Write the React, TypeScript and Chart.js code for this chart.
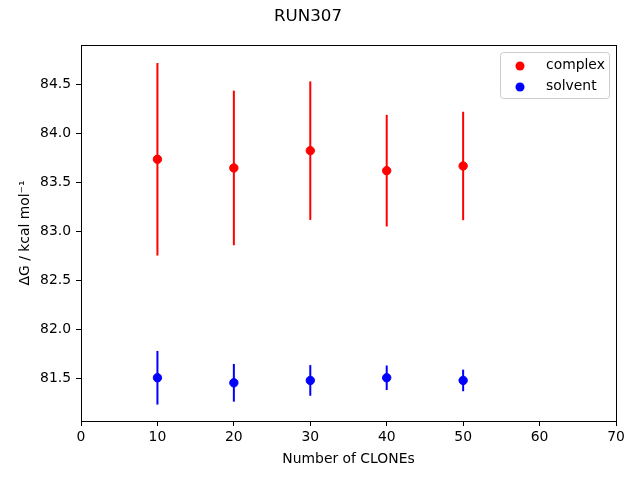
import React, { useEffect, useRef } from "react";
import { Chart, registerables } from "chart.js";

Chart.register(...registerables);

const TITLE = "RUN307";
const X_LABEL = "Number of CLONEs";
const Y_LABEL = "ΔG / kcal mol⁻¹";
const CLONES = [10, 20, 30, 40, 50];
const COMPLEX = [83.734, 83.646, 83.822, 83.618, 83.666];
const COMPLEX_ERR = [0.98, 0.787, 0.705, 0.568, 0.552];
const SOLVENT = [81.51, 81.459, 81.483, 81.51, 81.483];
const SOLVENT_ERR = [0.273, 0.192, 0.156, 0.125, 0.11];
const X_TICKS = [0, 10, 20, 30, 40, 50, 60, 70];
const Y_TICKS = [81.5, 82.0, 82.5, 83.0, 83.5, 84.0, 84.5];

const FONT = "'DejaVu Sans', sans-serif";

const errorBarPlugin = {
  id: "errorBars",
  beforeDatasetsDraw(chart: any) {
    const ctx = chart.ctx;
    const ys = chart.scales.y;
    const xs = chart.scales.x;
    chart.data.datasets.forEach((ds: any) => {
      ctx.save();
      ctx.strokeStyle = ds.backgroundColor;
      ctx.lineWidth = 2;
      ds.data.forEach((p: any, i: number) => {
        const e = ds.errors[i];
        const px = xs.getPixelForValue(p.x);
        ctx.beginPath();
        ctx.moveTo(px, ys.getPixelForValue(p.y + e));
        ctx.lineTo(px, ys.getPixelForValue(p.y - e));
        ctx.stroke();
      });
      ctx.restore();
    });
  },
  afterDraw(chart: any) {
    const ctx = chart.ctx;
    const a = chart.chartArea;
    ctx.save();
    ctx.strokeStyle = "#000";
    ctx.lineWidth = 1;
    ctx.strokeRect(Math.round(a.left) + 0.5, Math.round(a.top) + 0.5, Math.round(a.right - a.left), Math.round(a.bottom - a.top));
    // legend
    const bx = a.right - 116, by = a.top + 7, bw = 109, bh = 46;
    ctx.fillStyle = "rgba(255,255,255,0.8)";
    ctx.strokeStyle = "#cccccc";
    ctx.beginPath();
    (ctx as any).roundRect(bx + 0.5, by + 0.5, bw, bh, 3);
    ctx.fill();
    ctx.stroke();
    ctx.font = `13.9px ${FONT}`;
    ctx.textBaseline = "middle";
    ctx.textAlign = "left";
    chart.data.datasets.forEach((ds: any, i: number) => {
      const cy = by + 13.5 + i * 21;
      ctx.fillStyle = ds.backgroundColor;
      ctx.beginPath();
      ctx.arc(bx + 20, cy + 0.5, 4.5, 0, Math.PI * 2);
      ctx.fill();
      ctx.fillStyle = "#000";
      ctx.fillText(ds.label, bx + 46, cy);
    });
    ctx.restore();
  },
};

export default function App() {
  const ref = useRef<HTMLCanvasElement>(null);
  useEffect(() => {
    if (!ref.current) return;
    const mk = (vals: number[]) => CLONES.map((x, i) => ({ x, y: vals[i] }));
    const tickCommon = { color: "#000", font: { family: FONT, size: 13.9 } };
    const chart = new Chart(ref.current, {
      type: "scatter",
      data: {
        datasets: [
          { label: "complex", data: mk(COMPLEX), errors: COMPLEX_ERR, backgroundColor: "#ff0000", borderColor: "#ff0000", pointRadius: 4.2, borderWidth: 1 } as any,
          { label: "solvent", data: mk(SOLVENT), errors: SOLVENT_ERR, backgroundColor: "#0000ff", borderColor: "#0000ff", pointRadius: 4.2, borderWidth: 1 } as any,
        ],
      },
      options: {
        animation: false,
        responsive: false,
        layout: { padding: { left: 0, right: 24, top: 0, bottom: 0 } },
        plugins: {
          legend: { display: false },
          tooltip: { enabled: false },
          title: {
            display: true,
            text: TITLE,
            color: "#000",
            font: { family: FONT, size: 16.7, weight: "normal" },
            padding: { top: 7, bottom: 18 },
          },
        },
        scales: {
          x: {
            type: "linear",
            min: 0,
            max: 70,
            afterFit: (s: any) => { s.height = 59; },
            afterBuildTicks: (s: any) => { s.ticks = X_TICKS.map((v) => ({ value: v })); },
            grid: { display: true, drawOnChartArea: false, drawTicks: true, tickLength: 5, color: "#000" },
            border: { display: true, color: "#000" },
            ticks: { ...tickCommon, padding: 3, callback: (v: any) => String(v) },
            title: { display: true, text: X_LABEL, color: "#000", font: { family: FONT, size: 13.9 }, padding: { top: 0, bottom: 12 } },
          },
          y: {
            type: "linear",
            min: 81.07,
            max: 84.897,
            afterFit: (s: any) => { s.width = 81; },
            afterBuildTicks: (s: any) => { s.ticks = Y_TICKS.map((v) => ({ value: v })); },
            grid: { display: true, drawOnChartArea: false, drawTicks: true, tickLength: 5, color: "#000" },
            border: { display: true, color: "#000" },
            ticks: { ...tickCommon, padding: 5, callback: (v: any) => Number(v).toFixed(1) },
            title: { display: true, text: Y_LABEL, color: "#000", font: { family: FONT, size: 13.9 }, padding: { top: 17, bottom: 0 } },
          },
        },
      } as any,
      plugins: [errorBarPlugin],
    });
    return () => chart.destroy();
  }, []);
  return (
    <div style={{ position: "fixed", left: 0, top: 0, width: 640, height: 480, background: "#fff" }}>
      <canvas ref={ref} width={640} height={480} />
    </div>
  );
}
